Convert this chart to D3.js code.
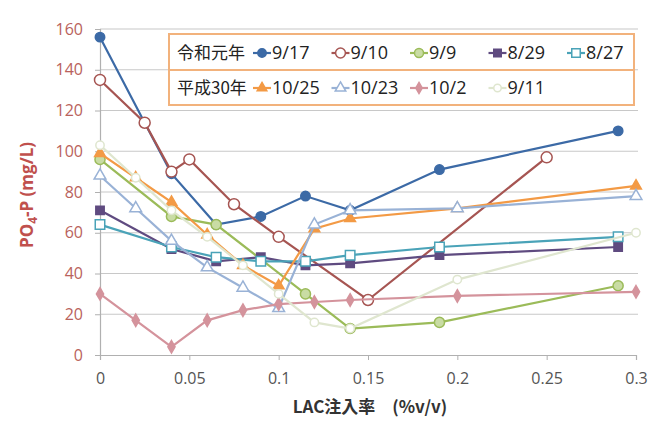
<!DOCTYPE html>
<html><head><meta charset="utf-8">
<script src="https://cdn.jsdelivr.net/npm/d3@7"></script>
<style>
html,body{margin:0;padding:0;background:#fff;}
svg{display:block;font-family:"Open Sans","Noto Sans CJK JP",sans-serif;}
</style></head>
<body><svg id="c" width="648" height="430"></svg>
<script>
// ---- data ----
const seriesNames = ["9/17","9/10","9/9","8/29","8/27","10/25","10/23","10/2","9/11"];
const groupLabels = ["令和元年","平成30年"];
const x_917 = [0, 0.025, 0.04, 0.065, 0.09, 0.115, 0.14, 0.19, 0.29];
const y_917 = [156, 114, 89, 64, 68, 78, 71, 91, 110];
const x_910 = [0, 0.025, 0.04, 0.05, 0.075, 0.1, 0.15, 0.25];
const y_910 = [135, 114, 90, 96, 74, 58, 27, 97];
const x_99  = [0, 0.04, 0.065, 0.115, 0.14, 0.19, 0.29];
const y_99  = [96, 68, 64, 30, 13, 16, 34];
const x_829 = [0, 0.04, 0.065, 0.09, 0.115, 0.14, 0.19, 0.29];
const y_829 = [71, 52, 46, 48, 44, 45, 49, 53];
const x_827 = [0, 0.04, 0.065, 0.09, 0.115, 0.14, 0.19, 0.29];
const y_827 = [64, 53, 48, 46, 46, 49, 53, 58];
const x_1025 = [0, 0.02, 0.04, 0.06, 0.08, 0.1, 0.12, 0.14, 0.2, 0.3];
const y_1025 = [99, 87, 75, 59, 44, 34, 62, 67, 72, 83];
const x_1023 = [0, 0.02, 0.04, 0.06, 0.08, 0.1, 0.12, 0.14, 0.2, 0.3];
const y_1023 = [88, 72, 56, 43, 33, 23, 64, 71, 72, 78];
const x_102 = [0, 0.02, 0.04, 0.06, 0.08, 0.1, 0.12, 0.14, 0.2, 0.3];
const y_102 = [30, 17, 4, 17, 22, 25, 26, 27, 29, 31];
const x_911 = [0, 0.02, 0.04, 0.06, 0.08, 0.1, 0.12, 0.14, 0.2, 0.3];
const y_911 = [103, 87, 71, 58, 44, 30, 16, 13, 37, 60];
const xTicks = [0, 0.05, 0.1, 0.15, 0.2, 0.25, 0.3];
const yTicks = [0, 20, 40, 60, 80, 100, 120, 140, 160];

const seriesX = [x_917, x_910, x_99, x_829, x_827, x_1025, x_1023, x_102, x_911];
const seriesY = [y_917, y_910, y_99, y_829, y_827, y_1025, y_1023, y_102, y_911];

// ---- styles ----
const styles = [
  {stroke:"#3c6aa6", fill:"#3c6aa6", sym:d3.symbolCircle, size:70},
  {stroke:"#a65552", fill:"#ffffff", sym:d3.symbolCircle, size:95},
  {stroke:"#9bbb59", fill:"#c9dca4", sym:d3.symbolCircle, size:80},
  {stroke:"#5f4b80", fill:"#5f4b80", sym:d3.symbolSquare, size:70},
  {stroke:"#4aa3b8", fill:"#ffffff", sym:d3.symbolSquare, size:90},
  {stroke:"#f39a45", fill:"#f39a45", sym:d3.symbolTriangle, size:50},
  {stroke:"#99b2d6", fill:"#ffffff", sym:d3.symbolTriangle, size:60},
  {stroke:"#d4939c", fill:"#d4939c", sym:d3.symbolDiamond, size:45},
  {stroke:"#dfe6cf", fill:"#ffffff", sym:d3.symbolCircle, size:55}
];

const svg = d3.select("#c");
const x = d3.scaleLinear().domain([0, 0.3]).range([100, 636]);
const y = d3.scaleLinear().domain([0, 160]).range([355, 29]);

// gridlines
svg.append("g").selectAll("line").data(yTicks.filter(d=>d>0)).join("line")
  .attr("x1", x(0)).attr("x2", x(0.3)+2)
  .attr("y1", d=>y(d)).attr("y2", d=>y(d))
  .attr("stroke", "#c8c8c8").attr("stroke-width", 1.2);

// y axis
const yAx = svg.append("g").attr("transform", `translate(${x(0)},0)`)
  .call(d3.axisLeft(y).tickValues(yTicks).tickSize(5).tickPadding(12).tickFormat(d3.format("d")));
yAx.select(".domain").attr("stroke", "#b0b0b0").attr("stroke-width", 1.2);
yAx.selectAll(".tick line").attr("stroke", "#b0b0b0");
yAx.selectAll("text").attr("fill", "#b9625c").attr("font-size", 16)
  .attr("font-family", "'Open Sans',sans-serif");

// x axis
const xAx = svg.append("g").attr("transform", `translate(0,${y(0)})`)
  .call(d3.axisBottom(x).tickValues(xTicks).tickSize(5).tickPadding(13).tickFormat(d => d === 0 ? "0" : String(d)));
xAx.select(".domain").attr("stroke", "#b0b0b0").attr("stroke-width", 1.2);
xAx.selectAll(".tick line").attr("stroke", "#b0b0b0");
xAx.selectAll("text").attr("fill", "#555").attr("font-size", 16)
  .attr("font-family", "'Open Sans',sans-serif");

// series
const line = d3.line().x(d=>x(d[0])).y(d=>y(d[1]));
seriesNames.forEach((name, i) => {
  const pts = seriesX[i].map((v, k) => [v, seriesY[i][k]]);
  const st = styles[i];
  const g = svg.append("g");
  g.append("path").attr("d", line(pts)).attr("fill", "none")
    .attr("stroke", st.stroke).attr("stroke-width", 2.2);
  g.selectAll("path.m").data(pts).join("path").attr("class", "m")
    .attr("transform", d => `translate(${x(d[0])},${y(d[1])})`)
    .attr("d", d3.symbol().type(st.sym).size(st.size))
    .attr("fill", st.fill).attr("stroke", st.stroke).attr("stroke-width", 1.5);
});

// legend
const lg = svg.append("g");
lg.append("rect").attr("x", 169).attr("y", 34).attr("width", 465).attr("height", 71)
  .attr("fill", "#fff").attr("stroke", "#f2b27c").attr("stroke-width", 2);
lg.append("line").attr("x1", 169).attr("x2", 634).attr("y1", 70).attr("y2", 70)
  .attr("stroke", "#f2b27c").attr("stroke-width", 2);
const rows = [seriesNames.slice(0,5), seriesNames.slice(5)];
rows.forEach((row, r) => {
  const cy = 53 + r * 35;
  lg.append("text").attr("x", 177).attr("y", cy).attr("dy", "0.35em")
    .attr("font-size", 17).attr("fill", "#222")
    .attr("font-family", "'Noto Sans CJK JP',sans-serif").text(groupLabels[r]);
  row.forEach((name, j) => {
    const i = seriesNames.indexOf(name);
    const st = styles[i];
    const lx = 253 + j * 78.5;
    lg.append("line").attr("x1", lx).attr("x2", lx + 18).attr("y1", cy).attr("y2", cy)
      .attr("stroke", st.stroke).attr("stroke-width", 2.2);
    lg.append("path").attr("transform", `translate(${lx + 9},${cy})`)
      .attr("d", d3.symbol().type(st.sym).size(st.size * 0.8))
      .attr("fill", st.fill).attr("stroke", st.stroke).attr("stroke-width", 1.5);
    lg.append("text").attr("x", lx + 19).attr("y", cy).attr("dy", "0.35em")
      .attr("font-size", 18).attr("fill", "#222").text(name);
  });
});

// axis titles
const yt = svg.append("text").attr("transform", "translate(33,195) rotate(-90)")
  .attr("text-anchor", "middle").attr("font-size", 17).attr("font-weight", "bold")
  .attr("fill", "#c0504d");
yt.append("tspan").text("PO");
yt.append("tspan").attr("font-size", 12).attr("dy", 4).text("4");
yt.append("tspan").attr("dy", -4).text("-P (mg/L)");

svg.append("text").attr("x", 370).attr("y", 413).attr("text-anchor", "middle")
  .attr("font-size", 17).attr("font-weight", "bold").attr("fill", "#333")
  .attr("font-family", "'Noto Sans CJK JP',sans-serif")
  .text("LAC注入率　(%v/v)");
</script></body></html>
